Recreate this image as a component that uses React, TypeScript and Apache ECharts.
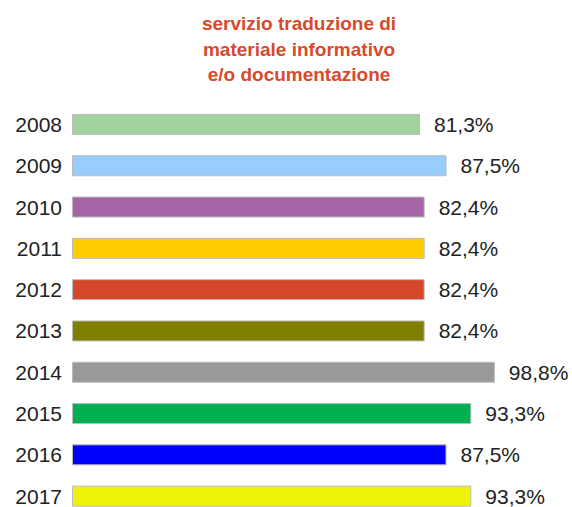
import React, { useEffect, useRef } from "react";
import * as echarts from "echarts";

const years = ["2008", "2009", "2010", "2011", "2012", "2013", "2014", "2015", "2016", "2017"];
const values = [81.3, 87.5, 82.4, 82.4, 82.4, 82.4, 98.8, 93.3, 87.5, 93.3];
const colors = ["#A3D39C", "#99CCFF", "#A664A6", "#FFCC00", "#D4472A", "#808000", "#999999", "#00B050", "#0000FF", "#EEF30A"];
const titleText = "servizio traduzione di\nmateriale informativo\ne/o documentazione";

export default function App() {
  const ref = useRef<HTMLDivElement>(null);
  useEffect(() => {
    if (!ref.current) return;
    const chart = echarts.init(ref.current, null, { renderer: "svg" });
    chart.setOption({
      animation: false,
      backgroundColor: "#ffffff",
      title: {
        text: titleText,
        left: 294,
        top: 6,
        textAlign: "center",
        textStyle: {
          fontFamily: "Liberation Sans, Arial, sans-serif",
          fontSize: 19,
          fontWeight: "bold",
          color: "#D64A2E",
          lineHeight: 25.5,
        },
      },
      grid: {
        left: 72,
        top: 103.8,
        width: 428,
        height: 413,
        containLabel: false,
        outerBoundsMode: "none",
      },
      xAxis: {
        type: "value",
        min: 0,
        max: 100,
        show: false,
      },
      yAxis: {
        type: "category",
        data: years,
        inverse: true,
        axisLine: { show: false },
        axisTick: { show: false },
        splitLine: { show: false },
        axisLabel: {
          margin: 10,
          fontFamily: "Liberation Sans, Arial, sans-serif",
          fontSize: 21,
          color: "#222222",
        },
      },
      series: [
        {
          type: "bar",
          barWidth: 21,
          data: values.map((v, i) => ({
            value: v,
            itemStyle: { color: colors[i], borderColor: "#bbbbbb", borderWidth: 1 },
          })),
          label: {
            show: true,
            position: "right",
            distance: 14,
            fontFamily: "Liberation Sans, Arial, sans-serif",
            fontSize: 21,
            color: "#222222",
            formatter: (p: any) => p.value.toFixed(1).replace(".", ",") + "%",
          },
        },
      ],
    });
    return () => chart.dispose();
  }, []);
  return (
    <div
      style={{ position: "fixed", left: 0, top: 0, width: 572, height: 507, overflow: "hidden", background: "#fff" }}
    >
      <div ref={ref} style={{ width: 572, height: 530 }} />
    </div>
  );
}
